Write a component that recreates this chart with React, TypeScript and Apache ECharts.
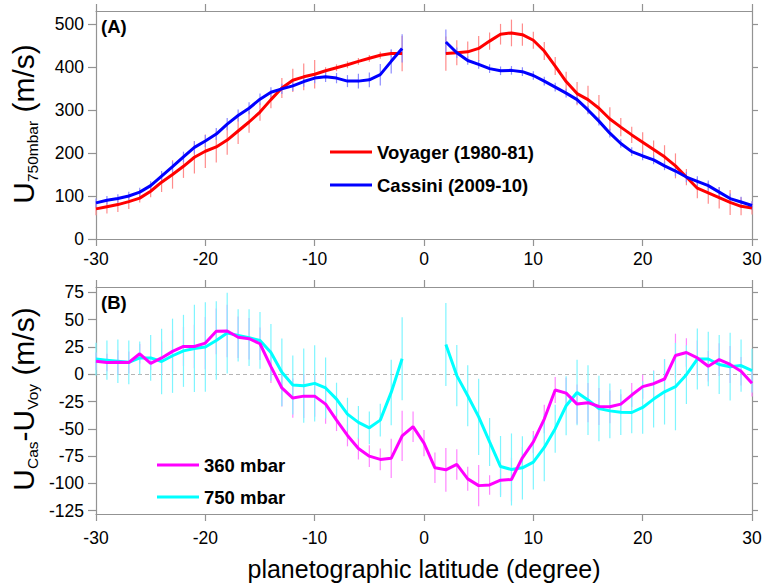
import React, { useEffect, useRef } from "react";
import * as echarts from "echarts";

const latitudes = [
  -30, -29, -28, -27, -26, -25, -24, -23, -22, -21, -20, -19, -18, -17, -16, -15, -14, -13, -12, -11, -10,
  -9, -8, -7, -6, -5, -4, -3, -2, -1, 0, 1, 2, 3, 4, 5, 6, 7, 8, 9, 10,
  11, 12, 13, 14, 15, 16, 17, 18, 19, 20, 21, 22, 23, 24, 25, 26, 27, 28, 29, 30,
];

const voyager = [
  70, 75, 80, 87, 95, 111, 132, 150, 169, 190, 204, 214, 230, 251, 272, 295, 324, 351, 369, 377, 383,
  391, 398, 405, 413, 420, 427, 431, 431, null, null, null, 431, 433, 435, 443, 460, 476, 479, 475, 462,
  437, 402, 366, 338, 324, 304, 279, 260, 242, 225, 208, 191, 170, 144, 118, 107, 96, 85, 76, 72,
];
const voyagerErr = [
  15, 16, 17, 17, 10, 14, 23, 33, 27, 38, 39, 36, 34, 30, 25, 20, 20, 23, 27, 31, 33,
  8, 8, 8, 8, 8, 8, 8, 41, null, null, null, 40, 29, 24, 29, 20, 24, 31, 26, 20,
  21, 21, 23, 27, 32, 31, 27, 21, 19, 23, 21, 27, 29, 19, 23, 25, 25, 29, 21, 15,
];
const cassini = [
  84, 90, 94, 100, 109, 124, 146, 168, 191, 213, 228, 244, 267, 287, 304, 325, 341, 349, 356, 366, 374,
  377, 374, 367, 367, 370, 382, 413, 443, null, null, null, 458, 433, 415, 406, 396, 391, 392, 389, 380,
  367, 353, 339, 324, 300, 274, 246, 222, 203, 193, 184, 170, 158, 144, 134, 124, 109, 94, 86, 78,
];
const cassiniErr = [
  10, 10, 10, 10, 10, 10, 12, 12, 12, 14, 14, 14, 14, 14, 14, 13, 12, 12, 12, 12, 12,
  12, 12, 14, 17, 17, 25, 28, 33, null, null, null, 29, 12, 10, 10, 10, 10, 10, 10, 10,
  10, 10, 10, 10, 10, 10, 10, 10, 10, 10, 10, 10, 12, 12, 12, 12, 12, 12, 12, 10,
];
const diff360 = [
  12, 10.8, 11, 10.8, 18.8, 10, 15, 21, 25.5, 25.5, 28.6, 39.4, 39.7, 34, 32.6, 28, 7, -12.5, -21.8, -20, -20,
  -27.3, -42, -56, -68, -75, -78, -77, -56.5, -48, -63, -85.7, -87.5, -82.6, -95.8, -102, -101.4, -97, -96.4, -76.5, -62,
  -41, -14.4, -17.2, -27.3, -26, -29.5, -29.8, -27.3, -19, -11.3, -8.6, -4.3, 17.2, 20, 15, 7.4, 13.5, 9, 2.8, -8.3,
];
const diff360Err = [
  8, 8, 11, 10, 9, 6, 15, 19, 18, 20, 24, 21, 24, 19, 19, 15, 15, 17, 18, 20, 19,
  18, 10, 10, 10, 10, 10, 18, 23, 14, 12, 14, 20, 14, 11, 19, 9, 14, 20, 10, 10,
  13, 12, 14, 18, 18, 17, 15, 9, 11, 11, 12, 18, 20, 13, 16, 14, 15, 17, 13, 12,
];
const diff750 = [
  14, 13, 12, 11, 15, 15, 11.7, 17, 21.5, 23.7, 25, 31, 37.8, 35.7, 33.5, 31, 20, 1.8, -9.8, -10.4, -8.3,
  -12.5, -22.7, -36.5, -44, -49, -42, -16.6, 14.2, null, null, null, 27.4, -1.2, -19.6, -39, -62, -84.5, -87.2, -85.7, -80.5,
  -67, -49.8, -28.8, -16.6, -23.6, -31.3, -33.5, -34.7, -35, -30.4, -22.7, -16, -11.3, -0.3, 14, 14, 9, 7, 8, 3.4,
];
const diff750Err = [
  15, 18, 20, 20, 15, 21, 30, 34, 33, 40, 41, 36, 37, 24, 26, 26, 26, 31, 27, 34, 35,
  28, 15, 15, 15, 15, 15, 30, 38, null, null, null, 38, 28, 28, 35, 22, 28, 33, 29, 25,
  31, 22, 27, 30, 32, 30, 25, 21, 19, 24, 26, 30, 40, 27, 28, 25, 27, 31, 24, 20,
];

const xTicks = [-30, -20, -10, 0, 10, 20, 30];
const topYTicks = [0, 100, 200, 300, 400, 500];
const bottomYTicks = [-125, -100, -75, -50, -25, 0, 25, 50, 75];

const seriesNames = {
  voyager: "Voyager (1980-81)",
  cassini: "Cassini (2009-10)",
  d360: "360 mbar",
  d750: "750 mbar",
};

const FONT = "'Liberation Sans', Arial, Helvetica, sans-serif";
const AXIS_COLOR = "#939393";

function lineData(vals: (number | null)[]) {
  return latitudes.map((lat, i) => [lat, vals[i] == null ? "-" : vals[i]]);
}

function errorData(vals: (number | null)[], errs: (number | null)[]) {
  const out: number[][] = [];
  latitudes.forEach((lat, i) => {
    const v = vals[i];
    const e = errs[i];
    if (v == null || e == null) return;
    out.push([lat, v - e, v + e]);
  });
  return out;
}

function errorSeries(color: string, grid: number, vals: (number | null)[], errs: (number | null)[], z: number) {
  return {
    type: "custom",
    xAxisIndex: grid * 2,
    yAxisIndex: grid * 2,
    silent: true,
    z,
    encode: { x: 0, y: [1, 2] },
    data: errorData(vals, errs),
    renderItem: (_params: any, api: any) => {
      const x = api.value(0);
      const p1 = api.coord([x, api.value(1)]);
      const p2 = api.coord([x, api.value(2)]);
      return {
        type: "line",
        shape: { x1: p1[0], y1: p1[1], x2: p2[0], y2: p2[1] },
        style: { stroke: color, lineWidth: 1.2 },
      };
    },
  };
}

function mainLine(name: string, color: string, grid: number, vals: (number | null)[], z: number, extra: any = {}) {
  return {
    type: "line",
    name,
    xAxisIndex: grid * 2,
    yAxisIndex: grid * 2,
    data: lineData(vals),
    showSymbol: false,
    symbol: "none",
    connectNulls: false,
    z,
    lineStyle: { color, width: 3 },
    itemStyle: { color },
    ...extra,
  };
}

function xAxesFor(grid: number, labelMargin: number) {
  const common = {
    gridIndex: grid,
    type: "value",
    min: -30,
    max: 30,
    interval: 10,
    splitLine: { show: false },
    axisLine: { show: true, onZero: false, lineStyle: { color: AXIS_COLOR, width: 1.2 } },
    axisTick: { show: true, inside: false, length: 7, lineStyle: { color: AXIS_COLOR, width: 1.2 } },
  };
  return [
    {
      ...common,
      position: "bottom",
      axisLabel: {
        show: true,
        margin: labelMargin,
        color: "#000",
        fontSize: 17.5,
        fontFamily: FONT,
        customValues: xTicks,
      },
    },
    { ...common, position: "top", axisLabel: { show: false } },
  ];
}

function yAxesFor(grid: number, min: number, max: number, ticks: number[]) {
  const common = {
    gridIndex: grid,
    type: "value",
    min,
    max,
    splitLine: { show: false },
    axisLine: { show: true, onZero: false, lineStyle: { color: AXIS_COLOR, width: 1.2 } },
  };
  return [
    {
      ...common,
      position: "left",
      axisTick: { show: true, inside: false, length: 8, customValues: ticks, lineStyle: { color: AXIS_COLOR, width: 1.2 } },
      axisLabel: { show: true, margin: 12, color: "#000", fontSize: 17.5, fontFamily: FONT, customValues: ticks },
    },
    {
      ...common,
      position: "right",
      axisTick: { show: true, inside: false, length: 6, customValues: ticks, lineStyle: { color: AXIS_COLOR, width: 1.2 } },
      axisLabel: { show: false },
    },
  ];
}

export default function App() {
  const ref = useRef<HTMLDivElement>(null);

  useEffect(() => {
    if (!ref.current) return;
    const chart = echarts.init(ref.current, undefined, { renderer: "svg" });

    const legendText = { fontFamily: FONT, fontSize: 18.5, fontWeight: "bold", color: "#000", lineHeight: 22 };
    const bigU = { fontFamily: FONT, fontSize: 30, lineHeight: 34, verticalAlign: "middle", fill: "#000" };
    const sub = { fontFamily: FONT, fontSize: 15.5, lineHeight: 16, verticalAlign: "bottom", fill: "#000" };

    const option: any = {
      animation: false,
      backgroundColor: "#fff",
      grid: [
        { left: 96, right: 14, top: 11, height: 228 },
        { left: 96, right: 14, top: 287, height: 227 },
      ],
      xAxis: [...xAxesFor(0, 11), ...xAxesFor(1, 14.5)],
      yAxis: [...yAxesFor(0, 0, 530, topYTicks), ...yAxesFor(1, -128, 80, bottomYTicks)],
      legend: [
        {
          data: [seriesNames.voyager, seriesNames.cassini],
          left: 325,
          top: 136,
          orient: "vertical",
          icon: "rect",
          itemWidth: 42,
          itemHeight: 3,
          itemGap: 11,
          selectedMode: false,
          textStyle: legendText,
        },
        {
          data: [seriesNames.d360, seriesNames.d750],
          left: 152,
          top: 449,
          orient: "vertical",
          icon: "rect",
          itemWidth: 42,
          itemHeight: 3,
          itemGap: 10,
          selectedMode: false,
          textStyle: legendText,
        },
      ],
      graphic: [
        {
          type: "text",
          x: 101,
          y: 26,
          style: { text: "(A)", font: `bold 18.5px ${FONT}`, fill: "#000", verticalAlign: "middle", align: "left" },
        },
        {
          type: "text",
          x: 101,
          y: 302,
          style: { text: "(B)", font: `bold 18.5px ${FONT}`, fill: "#000", verticalAlign: "middle", align: "left" },
        },
        {
          type: "text",
          x: 424,
          y: 569,
          style: {
            text: "planetographic latitude (degree)",
            font: `25px ${FONT}`,
            fill: "#000",
            align: "center",
            verticalAlign: "middle",
          },
        },
        {
          type: "text",
          x: 23,
          y: 124,
          rotation: Math.PI / 2,
          style: {
            text: "{u|U}{s|750mbar}{u| (m/s)}",
            align: "center",
            verticalAlign: "middle",
            rich: { u: bigU, s: sub },
          },
        },
        {
          type: "text",
          x: 23,
          y: 399,
          rotation: Math.PI / 2,
          style: {
            text: "{u|U}{s|Cas}{u|-U}{s|Voy}{u| (m/s)}",
            align: "center",
            verticalAlign: "middle",
            rich: { u: bigU, s: sub },
          },
        },
      ],
      series: [
        errorSeries("#ff8c8c", 0, voyager, voyagerErr, 1),
        errorSeries("#8c8cff", 0, cassini, cassiniErr, 2),
        mainLine(seriesNames.voyager, "#ff0000", 0, voyager, 3),
        mainLine(seriesNames.cassini, "#0000ff", 0, cassini, 4),
        errorSeries("#ff85ff", 1, diff360, diff360Err, 1),
        errorSeries("#7ff5ff", 1, diff750, diff750Err, 2),
        mainLine(seriesNames.d360, "#ff00ff", 1, diff360, 4, {
          markLine: {
            silent: true,
            symbol: ["none", "none"],
            label: { show: false },
            lineStyle: { color: "#b5b5b5", type: [4, 3], width: 1.2 },
            data: [{ yAxis: 0 }],
            z: 0,
          },
        }),
        mainLine(seriesNames.d750, "#00ffff", 1, diff750, 3),
      ],
    };

    chart.setOption(option);
    return () => chart.dispose();
  }, []);

  return <div ref={ref} style={{ position: "fixed", left: 0, top: 0, width: 766, height: 586 }} />;
}
